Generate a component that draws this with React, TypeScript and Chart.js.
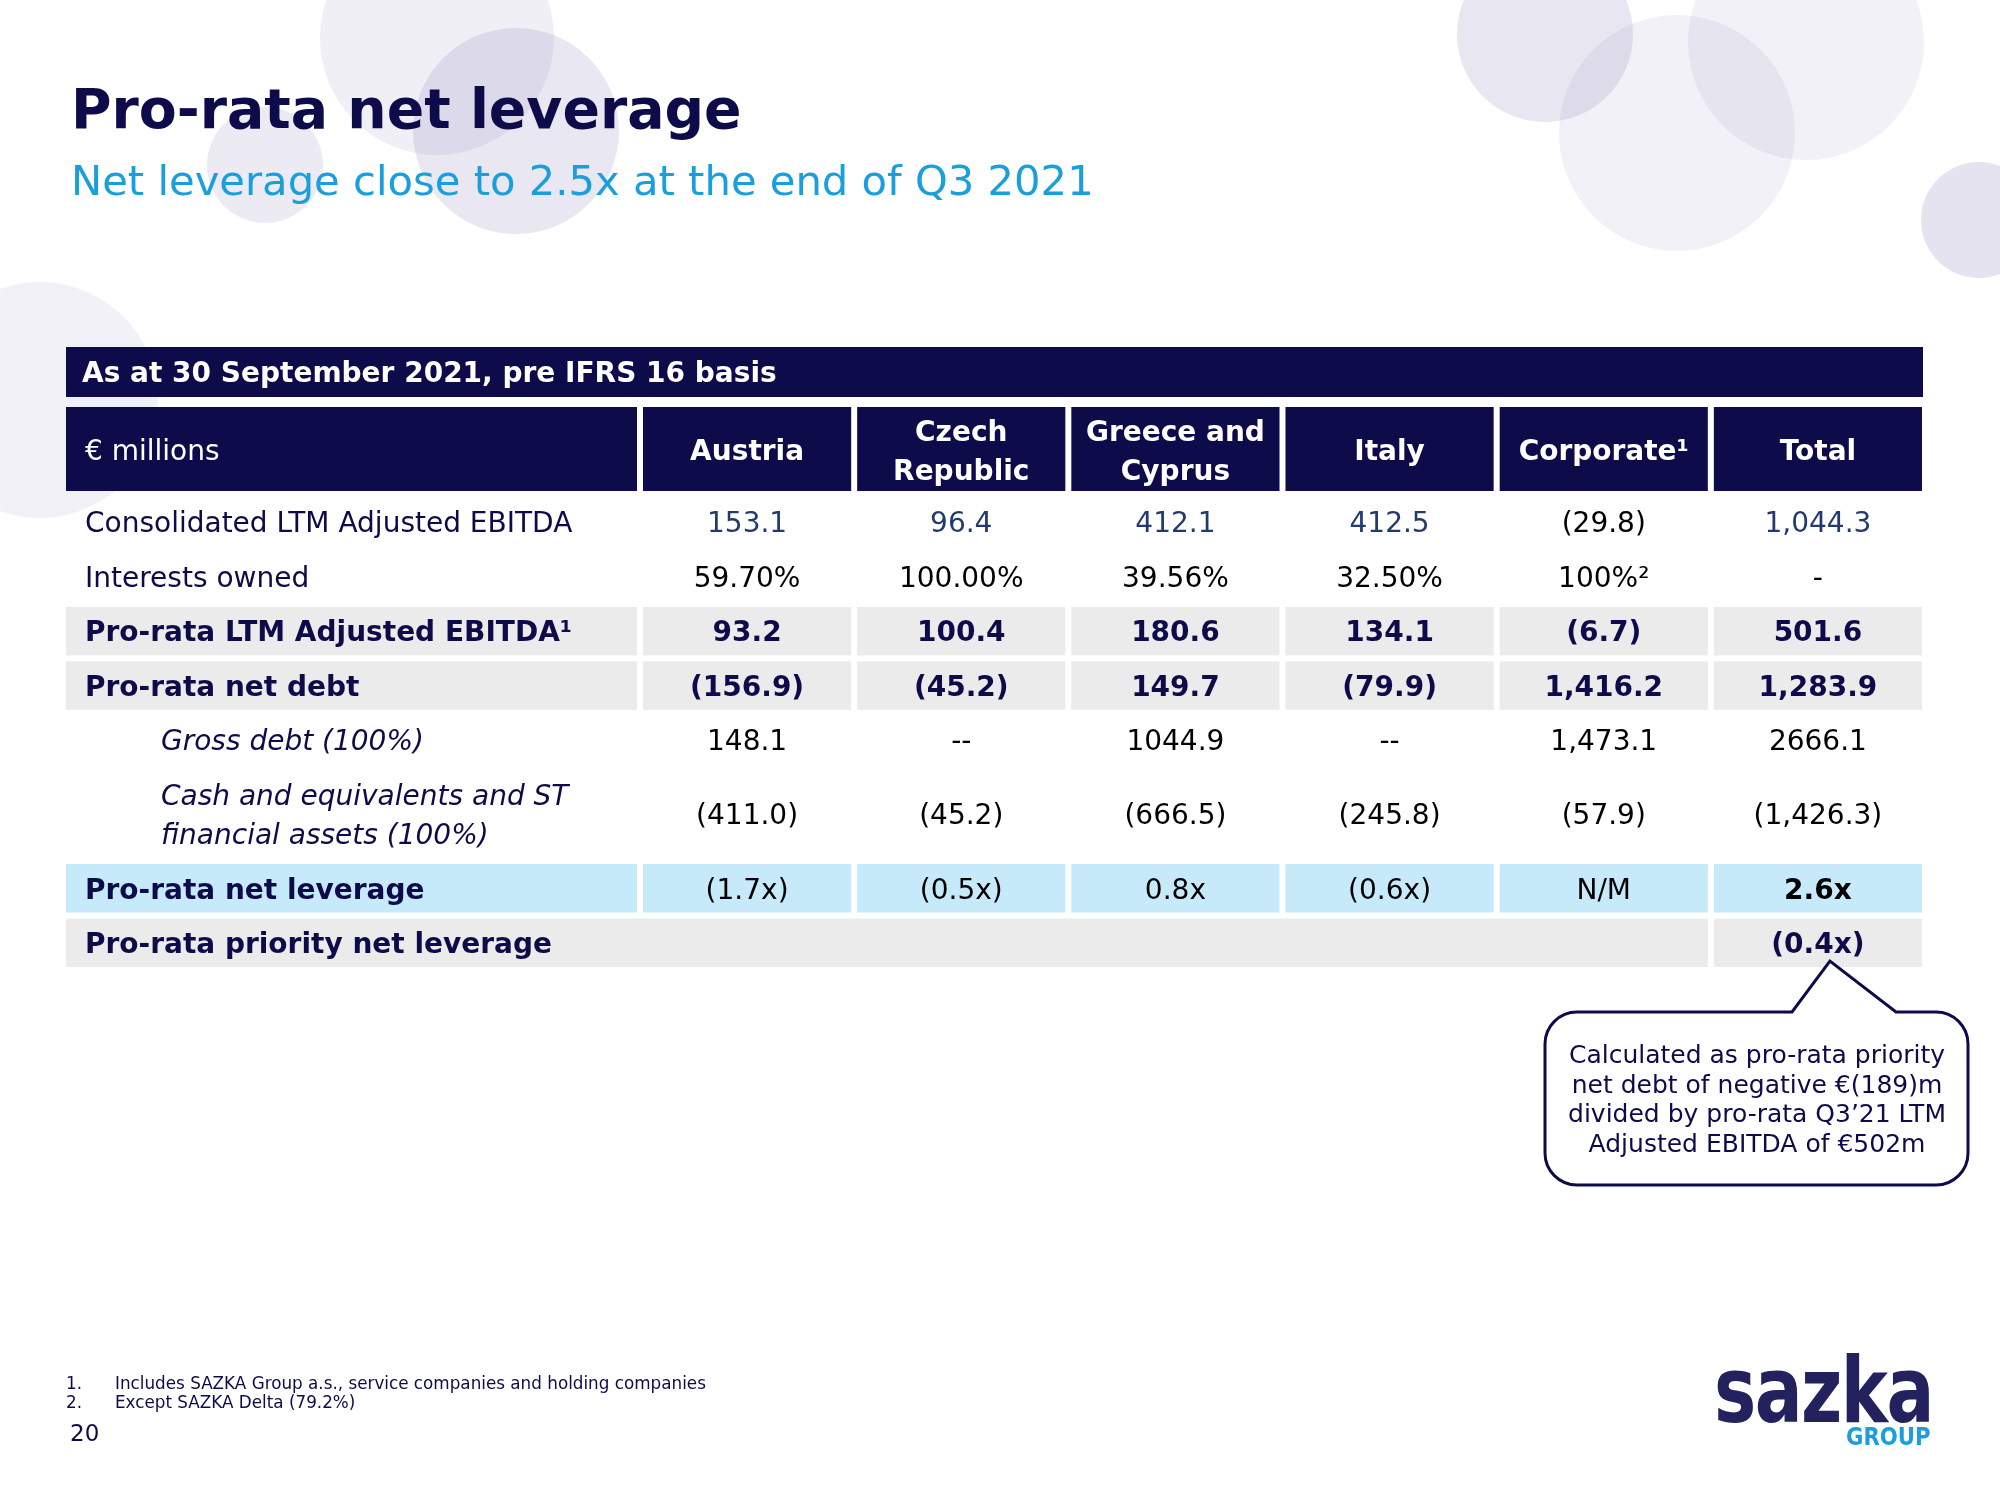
import React, { useEffect, useRef } from 'react';
import { Chart, registerables } from 'chart.js';

Chart.register(...registerables);

// ---------------- data ----------------
const TABLE_CAPTION = 'As at 30 September 2021, pre IFRS 16 basis';
const HEADER_LABEL = '€ millions';
const COLUMNS = [['Austria'], ['Czech', 'Republic'], ['Greece and', 'Cyprus'], ['Italy'], ['Corporate¹'], ['Total']];

const ROW_LABELS = [
  ['Consolidated LTM Adjusted EBITDA'],
  ['Interests owned'],
  ['Pro-rata LTM Adjusted EBITDA¹'],
  ['Pro-rata net debt'],
  ['Gross debt (100%)'],
  ['Cash and equivalents and ST', 'financial assets (100%)'],
  ['Pro-rata net leverage'],
  ['Pro-rata priority net leverage'],
];

const CONSOLIDATED_EBITDA = ['153.1', '96.4', '412.1', '412.5', '(29.8)', '1,044.3'];
const INTERESTS_OWNED = ['59.70%', '100.00%', '39.56%', '32.50%', '100%²', '-'];
const PRO_RATA_EBITDA = ['93.2', '100.4', '180.6', '134.1', '(6.7)', '501.6'];
const PRO_RATA_NET_DEBT = ['(156.9)', '(45.2)', '149.7', '(79.9)', '1,416.2', '1,283.9'];
const GROSS_DEBT = ['148.1', '--', '1044.9', '--', '1,473.1', '2666.1'];
const CASH_AND_ST_ASSETS = ['(411.0)', '(45.2)', '(666.5)', '(245.8)', '(57.9)', '(1,426.3)'];
const PRO_RATA_NET_LEVERAGE = ['(1.7x)', '(0.5x)', '0.8x', '(0.6x)', 'N/M', '2.6x'];
const PRO_RATA_PRIORITY_LEVERAGE = ['', '', '', '', '', '(0.4x)'];

const ROWS = [
  CONSOLIDATED_EBITDA,
  INTERESTS_OWNED,
  PRO_RATA_EBITDA,
  PRO_RATA_NET_DEBT,
  GROSS_DEBT,
  CASH_AND_ST_ASSETS,
  PRO_RATA_NET_LEVERAGE,
  PRO_RATA_PRIORITY_LEVERAGE,
];

const CALLOUT_LINES = [
  'Calculated as pro-rata priority',
  'net debt of negative €(189)m',
  'divided by pro-rata Q3’21 LTM',
  'Adjusted EBITDA of €502m',
];

const TITLE = 'Pro-rata net leverage';
const SUBTITLE = 'Net leverage close to 2.5x at the end of Q3 2021';
const FOOTNOTES = [
  ['1.', 'Includes SAZKA Group a.s., service companies and holding companies'],
  ['2.', 'Except SAZKA Delta (79.2%)'],
];
const PAGE_NUMBER = '20';

// ---------------- layout & style ----------------
const FONT = '"DejaVu Sans", Verdana, sans-serif';
const NAVY = '#0e0b4b';
const BLUE_TEXT = '#233a6e';
const GRAY = '#ebebeb';
const LIGHT_BLUE = '#c6eafa';
const SKY = '#1a9fdc';
const FS = 28;
const GAP = 3;
const TABLE_LEFT = 66;
const LABEL_X = 85;
const INDENT_X = 161;
const HEADER_H = 84;
const CAPTION_H = 50;

const ROW_SPAN = [1, 1, 1, 1, 1, 1.72, 1, 1];
const TOTAL_SPAN = ROW_SPAN.reduce((a, b) => a + b, 0);

type RowStyle = {
  bg: string | null;
  merged?: boolean;
  labelBold: boolean;
  italic: boolean;
  valueBold: boolean[] | boolean;
  valueColor: string[] | string;
};
const ROW_STYLE: RowStyle[] = [
  { bg: null, labelBold: false, italic: false, valueBold: false, valueColor: [BLUE_TEXT, BLUE_TEXT, BLUE_TEXT, BLUE_TEXT, '#000', BLUE_TEXT] },
  { bg: null, labelBold: false, italic: false, valueBold: false, valueColor: '#000' },
  { bg: GRAY, labelBold: true, italic: false, valueBold: true, valueColor: NAVY },
  { bg: GRAY, labelBold: true, italic: false, valueBold: true, valueColor: NAVY },
  { bg: null, labelBold: false, italic: true, valueBold: false, valueColor: '#000' },
  { bg: null, labelBold: false, italic: true, valueBold: false, valueColor: '#000' },
  { bg: LIGHT_BLUE, labelBold: true, italic: false, valueBold: [false, false, false, false, false, true], valueColor: '#000' },
  { bg: GRAY, merged: true, labelBold: true, italic: false, valueBold: true, valueColor: NAVY },
];

const CIRCLES = [
  { cx: 437, cy: 38, r: 117, a: 0.1 },
  { cx: 516, cy: 131, r: 103, a: 0.15 },
  { cx: 265, cy: 165, r: 58, a: 0.13 },
  { cx: 40, cy: 400, r: 118, a: 0.09 },
  { cx: 1545, cy: 34, r: 88, a: 0.16 },
  { cx: 1677, cy: 133, r: 118, a: 0.09 },
  { cx: 1806, cy: 42, r: 118, a: 0.09 },
  { cx: 1979, cy: 220, r: 58, a: 0.18 },
];

function font(size: number, bold = false, italic = false) {
  return `${italic ? 'italic ' : ''}${bold ? 'bold ' : ''}${size}px ${FONT}`;
}

function drawText(ctx: CanvasRenderingContext2D, s: string, x: number, cy: number, f: string, size: number, color: string, align: CanvasTextAlign) {
  ctx.font = f;
  ctx.fillStyle = color;
  ctx.textAlign = align;
  ctx.textBaseline = 'alphabetic';
  ctx.fillText(s, x, cy + size * 0.365);
}

function pick<T>(v: T[] | T, i: number): T {
  return Array.isArray(v) ? v[i] : v;
}

const tablePlugin = {
  id: 'tablePlugin',
  afterDraw(chart: any) {
    const ctx: CanvasRenderingContext2D = chart.ctx;
    const xs = chart.scales.x;
    const ys = chart.scales.y;
    const half = (xs.getPixelForValue(1) - xs.getPixelForValue(0)) / 2;
    const cellL = (i: number) => xs.getPixelForValue(i) - half + GAP;
    const cellR = (i: number) => xs.getPixelForValue(i) + half - GAP;
    const labelL = TABLE_LEFT;
    const labelR = cellL(0) - 2 * GAP;
    const right = cellR(COLUMNS.length - 1);
    const bodyTop = ys.getPixelForValue(0);
    const headBottom = bodyTop - 4;
    const headTop = headBottom - HEADER_H;
    const capBottom = headTop - 10;
    const capTop = capBottom - CAPTION_H;

    ctx.save();
    // caption banner
    ctx.fillStyle = NAVY;
    ctx.fillRect(labelL, capTop, right + 1 - labelL, CAPTION_H);
    drawText(ctx, TABLE_CAPTION, labelL + 16, (capTop + capBottom) / 2, font(FS, true), FS, '#fff', 'left');

    // header row
    const headMid = (headTop + headBottom) / 2 + 1;
    ctx.fillStyle = NAVY;
    ctx.fillRect(labelL, headTop, labelR - labelL, HEADER_H);
    drawText(ctx, HEADER_LABEL, LABEL_X, headMid, font(FS), FS, '#fff', 'left');
    COLUMNS.forEach((lines, i) => {
      ctx.fillStyle = NAVY;
      ctx.fillRect(cellL(i), headTop, cellR(i) - cellL(i), HEADER_H);
      const cx = xs.getPixelForValue(i);
      lines.forEach((ln, k) => {
        const cy = headMid + (k - (lines.length - 1) / 2) * 39;
        drawText(ctx, ln, cx, cy, font(FS, true), FS, '#fff', 'center');
      });
    });

    // body rows
    let acc = 0;
    ROWS.forEach((vals, r) => {
      const st = ROW_STYLE[r];
      const top = ys.getPixelForValue(acc);
      const bottom = ys.getPixelForValue(acc + ROW_SPAN[r]);
      acc += ROW_SPAN[r];
      const mid = (top + bottom) / 2;
      const y0 = top + GAP;
      const h = bottom - top - 2 * GAP;
      if (st.bg) {
        ctx.fillStyle = st.bg;
        if (st.merged) {
          let lastEmpty = -1;
          vals.forEach((v, i) => { if (v === '') lastEmpty = i; });
          ctx.fillRect(labelL, y0, cellR(lastEmpty) - labelL, h);
          vals.forEach((v, i) => {
            if (i > lastEmpty) ctx.fillRect(cellL(i), y0, cellR(i) - cellL(i), h);
          });
        } else {
          ctx.fillRect(labelL, y0, labelR - labelL, h);
          vals.forEach((_, i) => ctx.fillRect(cellL(i), y0, cellR(i) - cellL(i), h));
        }
      }
      const labels = ROW_LABELS[r];
      const lx = st.italic ? INDENT_X : LABEL_X;
      labels.forEach((ln, k) => {
        const cy = mid + (k - (labels.length - 1) / 2) * 38.5;
        drawText(ctx, ln, lx, cy, font(FS, st.labelBold, st.italic), FS, NAVY, 'left');
      });
      vals.forEach((v, i) => {
        if (!v) return;
        drawText(ctx, v, xs.getPixelForValue(i), mid, font(FS, pick(st.valueBold, i)), FS, pick(st.valueColor, i), 'center');
      });
    });

    // callout bubble pointing at the priority leverage total
    const lastIdx = COLUMNS.length - 1;
    const apexX = xs.getPixelForValue(lastIdx) + 12;
    const apexY = ys.getPixelForValue(TOTAL_SPAN) - 9;
    const bx = 1545, by = 1012, bw = 423, bh = 173, rad = 32;
    const b1 = 1792, b2 = 1896;
    ctx.beginPath();
    ctx.moveTo(bx + rad, by);
    ctx.lineTo(b1, by);
    ctx.lineTo(apexX, apexY);
    ctx.lineTo(b2, by);
    ctx.lineTo(bx + bw - rad, by);
    ctx.arcTo(bx + bw, by, bx + bw, by + rad, rad);
    ctx.lineTo(bx + bw, by + bh - rad);
    ctx.arcTo(bx + bw, by + bh, bx + bw - rad, by + bh, rad);
    ctx.lineTo(bx + rad, by + bh);
    ctx.arcTo(bx, by + bh, bx, by + bh - rad, rad);
    ctx.lineTo(bx, by + rad);
    ctx.arcTo(bx, by, bx + rad, by, rad);
    ctx.closePath();
    ctx.fillStyle = '#fff';
    ctx.fill();
    ctx.lineWidth = 3;
    ctx.strokeStyle = NAVY;
    ctx.lineJoin = 'miter';
    ctx.stroke();
    CALLOUT_LINES.forEach((ln, k) => {
      ctx.font = font(25);
      ctx.fillStyle = NAVY;
      ctx.textAlign = 'center';
      ctx.textBaseline = 'alphabetic';
      ctx.fillText(ln, 1757, 1063 + k * 29.6);
    });
    ctx.restore();
  },
};

export default function App() {
  const ref = useRef<HTMLCanvasElement>(null);
  useEffect(() => {
    const chart = new Chart(ref.current as HTMLCanvasElement, {
      type: 'bar',
      data: { labels: COLUMNS.map((c) => c.join(' ')), datasets: [] },
      options: {
        animation: false,
        responsive: false,
        maintainAspectRatio: false,
        events: [],
        layout: { padding: { left: 640, right: 75, top: 495, bottom: 530 } },
        plugins: { legend: { display: false }, tooltip: { enabled: false }, title: { display: false } },
        scales: {
          x: { type: 'category', offset: true, display: false },
          y: { type: 'linear', min: 0, max: TOTAL_SPAN, reverse: true, display: false },
        },
      },
      plugins: [tablePlugin],
    } as any);
    return () => chart.destroy();
  }, []);

  return (
    <div style={{ position: 'absolute', left: 0, top: 0, width: 2000, height: 1500, overflow: 'hidden', background: '#fff', fontFamily: FONT }}>
      {CIRCLES.map((c, i) => (
        <div
          key={i}
          style={{
            position: 'absolute',
            left: c.cx - c.r,
            top: c.cy - c.r,
            width: 2 * c.r,
            height: 2 * c.r,
            borderRadius: '50%',
            background: `rgba(110,100,170,${c.a})`,
            zIndex: 0,
          }}
        />
      ))}
      <canvas ref={ref} width={2000} height={1500} style={{ position: 'absolute', left: 0, top: 0, width: 2000, height: 1500, zIndex: 1 }} />
      <div style={{ position: 'absolute', left: 71, top: 82, fontSize: 55.3, lineHeight: '55px', fontWeight: 'bold', color: NAVY, whiteSpace: 'nowrap', zIndex: 2 }}>{TITLE}</div>
      <div style={{ position: 'absolute', left: 71, top: 160, fontSize: 41.7, lineHeight: '42px', color: SKY, whiteSpace: 'nowrap', zIndex: 2 }}>{SUBTITLE}</div>
      {FOOTNOTES.map((f, i) => (
        <div key={i} style={{ position: 'absolute', left: 66, top: 1374 + i * 19, fontSize: 16.8, lineHeight: '19px', color: NAVY, whiteSpace: 'nowrap', zIndex: 2 }}>
          <span style={{ display: 'inline-block', width: 49 }}>{f[0]}</span>
          <span>{f[1]}</span>
        </div>
      ))}
      <div style={{ position: 'absolute', left: 70, top: 1422, fontSize: 23, lineHeight: '23px', color: NAVY, zIndex: 2 }}>{PAGE_NUMBER}</div>
      <div style={{ position: 'absolute', left: 1714, top: 1345, fontSize: 91, lineHeight: '91px', fontWeight: 900, color: '#23215e', whiteSpace: 'nowrap', transform: 'scaleX(0.78)', transformOrigin: 'left top', letterSpacing: -2, zIndex: 2 }}>sazka</div>
      <div style={{ position: 'absolute', left: 1846, top: 1424, fontSize: 25, lineHeight: '25px', fontWeight: 'bold', color: SKY, whiteSpace: 'nowrap', transform: 'scaleX(0.85)', transformOrigin: 'left top', zIndex: 2 }}>GROUP</div>
    </div>
  );
}
